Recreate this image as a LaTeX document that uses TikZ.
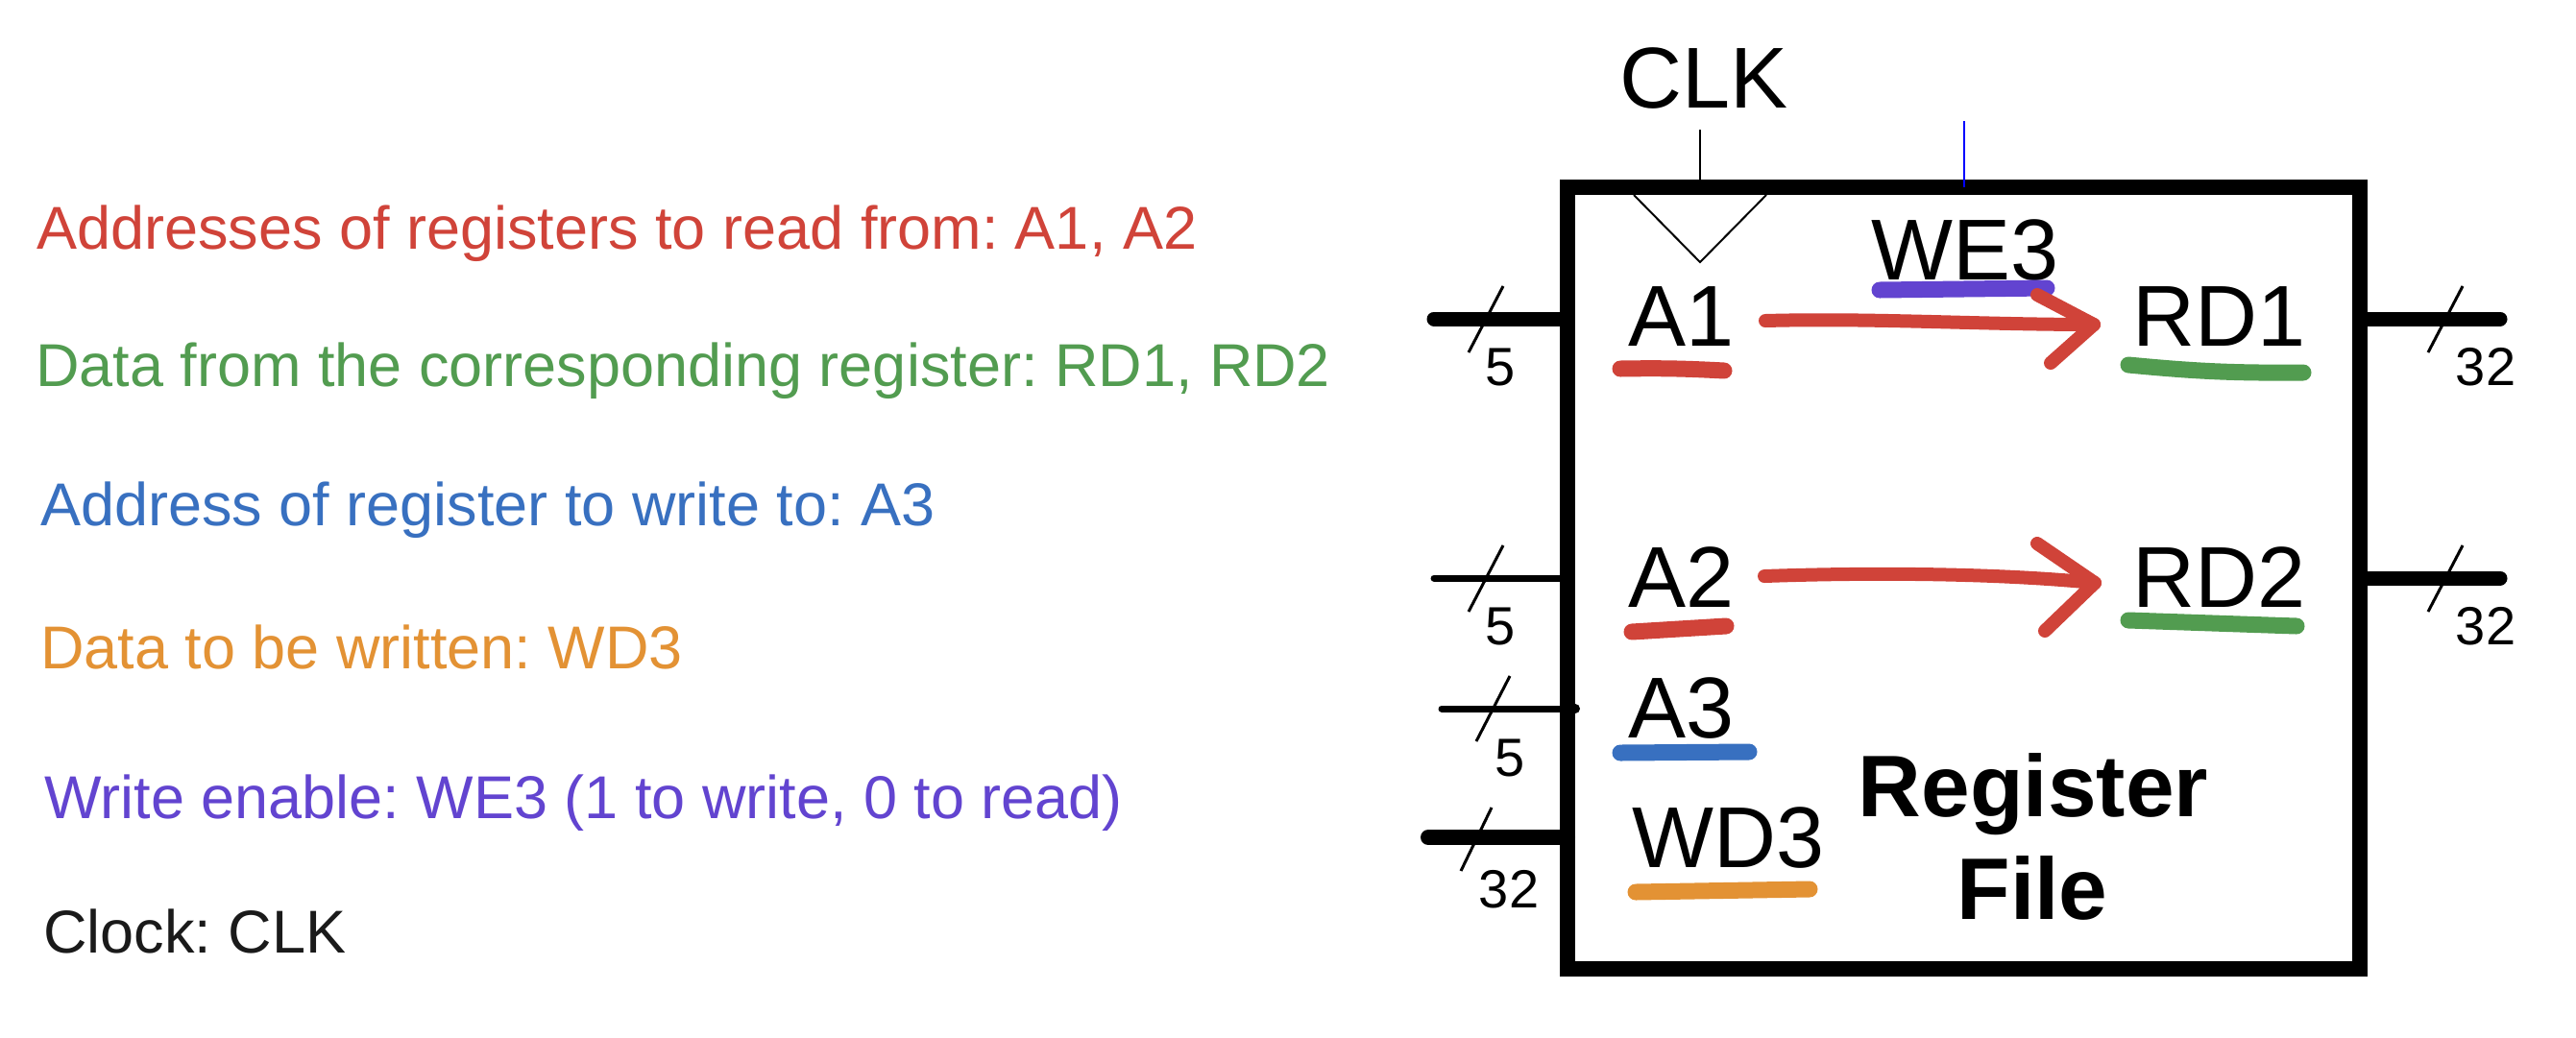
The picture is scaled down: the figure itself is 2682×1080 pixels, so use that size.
\documentclass[tikz,border=0pt]{standalone}
\usepackage{fontspec}
\setmainfont{Liberation Sans}
\frenchspacing
\definecolor{cred}{RGB}{208,67,57}
\definecolor{cgreen}{RGB}{82,156,80}
\definecolor{cblue}{RGB}{56,112,192}
\definecolor{corange}{RGB}{227,146,52}
\definecolor{cpurple}{RGB}{98,68,208}
\definecolor{cblack}{RGB}{26,26,26}
\begin{document}
\begin{tikzpicture}[x=1pt,y=-1pt,
  desc/.style={anchor=base west, inner sep=0pt, font=\frenchspacing\fontsize{63}{70}\selectfont},
  portlbl/.style={anchor=base west, inner sep=0pt, font=\fontsize{90}{100}\selectfont},
  bitw/.style={anchor=base, inner sep=0pt, font=\fontsize{56}{60}\selectfont},
  hl/.style={line width=17pt, line cap=round},
  bus/.style={line width=15pt, line cap=round},
  wire/.style={line width=7pt, line cap=round},
  slashln/.style={line width=3pt},
  thinln/.style={line width=2pt},
  redarr/.style={draw=cred, line width=14pt, line cap=round, line join=round}]
\useasboundingbox[fill=white] (0,0) rectangle (2682,1080);

% left descriptions
\node[desc, text=cred] (d1) at (38,259) {Addresses of registers to read from: A1, A2};
\node[desc, text=cgreen] (d2) at (37,402) {Data from the corresponding register: RD1, RD2};
\node[desc, text=cblue] (d3) at (42,547) {Address of register to write to: A3};
\node[desc, text=corange] (d4) at (42,696) {Data to be written: WD3};
\node[desc, text=cpurple] (d5) at (46,852) {Write enable: WE3 (1 to write, 0 to read)};
\node[desc, text=cblack] (d6) at (45,992) {Clock: CLK};

% register file box
\node[draw, line width=16pt, minimum width=825pt, minimum height=814pt,
      inner sep=0pt, outer sep=0pt] (rf) at (2044.5,602) {};

% CLK
\node[anchor=base, inner sep=0pt, font=\fontsize{90}{100}\selectfont] (clk) at (1774,112) {CLK};
\coordinate (clkin) at (1770,135);
\draw[thinln] (clkin) -- (clkin |- rf.north);
\coordinate (trL) at (1701,203);
\coordinate (trB) at (1770,273);
\coordinate (trR) at (1839,203);
\draw[thinln, line join=miter] (trL) -- (trB) -- (trR);

% WE3
\coordinate (wein) at (2045,126);
\draw[line width=2pt, blue] (wein) -- (wein |- rf.north);
\node[portlbl] (we3) at (1948,291) {WE3};
\coordinate (we3a) at (1957,302);
\coordinate (we3b) at (2131,300);
\draw[hl, cpurple] (we3a) -- (we3b);

% port labels
\node[portlbl] (a1) at (1695,360) {A1};
\node[portlbl] (rd1) at (2220,360) {RD1};
\node[portlbl] (a2) at (1695,632) {A2};
\node[portlbl] (rd2) at (2220,632) {RD2};
\node[portlbl] (a3) at (1695,768) {A3};
\node[portlbl] (wd3) at (1699,903) {WD3};
\node[anchor=base, inner sep=0pt, font=\bfseries\fontsize{91}{100}\selectfont] (reg) at (2117,850) {Register};
\node[anchor=base, inner sep=0pt, font=\bfseries\fontsize{91}{100}\selectfont] (file) at (2116,957) {File};

% highlights
\draw[hl, cred] (1687,384) to[bend left=2] (1795,386);
\draw[hl, cgreen] (2216,380) to[bend right=3] (2398,388);
\draw[hl, cred] (1699,658) -- (1797,652);
\draw[hl, cgreen] (2216,646) -- (2391,652);
\draw[hl, cblue] (1687,784) -- (1821,783);
\draw[hl, corange] (1703,929) -- (1884,926);

% red arrows
\coordinate (ar1s) at (1838,334);
\coordinate (ar1t) at (2180,338);
\coordinate (ar1u) at (2121,307);
\coordinate (ar1d) at (2135,378);
\draw[redarr] (ar1s) .. controls (1950,331) and (2060,338) .. (ar1t);
\draw[redarr] (ar1u) -- (ar1t) -- (ar1d);
\coordinate (ar2s) at (1837,600);
\coordinate (ar2t) at (2181,607);
\coordinate (ar2u) at (2121,566);
\coordinate (ar2d) at (2129,657);
\draw[redarr] (ar2s) .. controls (1950,596) and (2080,597) .. (ar2t);
\draw[redarr] (ar2u) -- (ar2t) -- (ar2d);

% input buses
\coordinate (in1) at (1493,332);
\draw[bus] (in1) -- (in1 -| rf.west);
\draw[slashln] (1565,298) -- (1529,367);
\node[bitw] (w1) at (1562,401) {5};

\coordinate (in2) at (1493,602);
\draw[wire] (in2) -- (in2 -| rf.west);
\draw[slashln] (1565,568) -- (1529,637);
\node[bitw] (w2) at (1562,671) {5};

\coordinate (in3) at (1501,738);
\coordinate (in3e) at (1640,738);
\draw[wire] (in3) -- (in3e);
\fill (in3e) circle (5);
\draw[slashln] (1572,704) -- (1537,772);
\node[bitw] (w3) at (1572,808) {5};

\coordinate (in4) at (1487,872);
\draw[bus, line width=16pt] (in4) -- (in4 -| rf.west);
\draw[slashln] (1553,841) -- (1521,907);
\node[bitw] (w4) at (1571,945) {32};

% output buses
\coordinate (out1) at (2603,332);
\draw[bus] (rf.east |- out1) -- (out1);
\draw[slashln] (2564,298) -- (2528,367);
\node[bitw] (w5) at (2588,401) {32};

\coordinate (out2) at (2603,602);
\draw[bus] (rf.east |- out2) -- (out2);
\draw[slashln] (2564,568) -- (2528,637);
\node[bitw] (w6) at (2588,671) {32};
\end{tikzpicture}
\end{document}
